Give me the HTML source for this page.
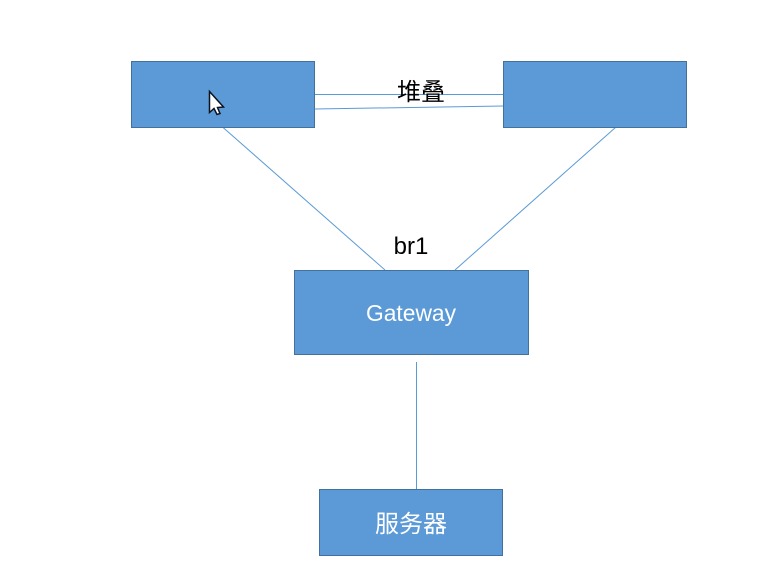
<!DOCTYPE html>
<html>
<head>
<meta charset="utf-8">
<style>
html,body{margin:0;padding:0;background:#fff;width:757px;height:583px;overflow:hidden}
svg{display:block}
text{font-family:"Liberation Sans","Noto Sans CJK SC",sans-serif}
</style>
</head>
<body>
<svg width="757" height="583" viewBox="0 0 757 583" xmlns="http://www.w3.org/2000/svg">
<rect width="757" height="583" fill="#fff"/>
<g stroke="#5b9bd5" stroke-width="1" fill="none">
<line x1="315" y1="94.500" x2="503" y2="94.500"/>
<line x1="315" y1="109" x2="503" y2="106"/>
<line x1="222.500" y1="127" x2="385" y2="270"/>
<line x1="616" y1="127" x2="455" y2="270"/>
<line x1="416.500" y1="362" x2="416.500" y2="489"/>
</g>
<g fill="#5b9ad6" stroke="#41719c" stroke-width="1">
<rect x="131.500" y="61.500" width="183" height="66"/>
<rect x="503.500" y="61.500" width="183" height="66"/>
<rect x="294.500" y="270.500" width="234" height="84"/>
<rect x="319.500" y="489.500" width="183" height="66"/>
</g>
<text x="421" y="100" font-size="24" text-anchor="middle" fill="#000">堆叠</text>
<text x="411" y="254" font-size="24" text-anchor="middle" fill="#000">br1</text>
<text x="411" y="321" font-size="23" text-anchor="middle" fill="#fff" textLength="90" lengthAdjust="spacingAndGlyphs">Gateway</text>
<text x="411" y="532" font-size="24" text-anchor="middle" fill="#fff">服务器</text>
<path d="M209.500 91.500 L209.500 112.500 L214 108.500 L217 114.500 L220 113.500 L217.500 107.500 L223.500 107 Z" fill="#fff" stroke="#0a1420" stroke-width="1.500"/>
</svg>
</body>
</html>
